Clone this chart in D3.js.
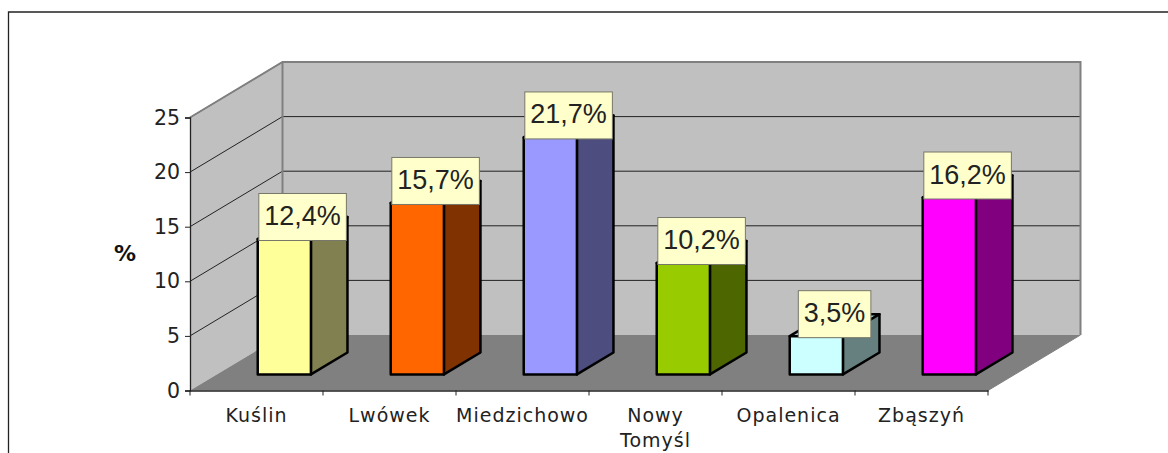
<!DOCTYPE html>
<html>
<head>
<meta charset="utf-8">
<script src="https://cdnjs.cloudflare.com/ajax/libs/d3/7.8.5/d3.min.js"></script>
<style>
  html, body { margin: 0; padding: 0; background: #fff; overflow: hidden; }
  svg { display: block; }
</style>
</head>
<body>
<div id="chart"></div>
<script>
const categories = ["Kuślin", "Lwówek", "Miedzichowo", "Nowy Tomyśl", "Opalenica", "Zbąszyń"]
const values = [12.4, 15.7, 21.7, 10.2, 3.5, 16.2]
const labels = ["12,4%", "15,7%", "21,7%", "10,2%", "3,5%", "16,2%"]
const frontColors = ["#FFFF99", "#FF6600", "#9999FF", "#99CC00", "#CCFFFF", "#FF00FF"]
const sideColors = ["#808050", "#803300", "#4D4D80", "#4D6600", "#668080", "#800080"]
const topColors = ["#CCCC7A", "#CC5200", "#7A7ACC", "#7AA300", "#A3CCCC", "#CC00CC"]
const yTicks = [0, 5, 10, 15, 20, 25]

const WIDTH = 1168
const HEIGHT = 453
const DEPTH = {X: 92.5, Y: -55.5}
// bars stand in the middle of the floor depth
const BAR_Z = [0.29, 0.685]

const svg = d3.select("#chart").append("svg")
  .attr("width", WIDTH)
  .attr("height", HEIGHT)

// scales for the front plane of the 3d box
const x = d3.scaleBand().domain(categories).range([191, 989]).paddingInner(0.6).paddingOuter(0.3)
const xTick = d3.scaleBand().domain(categories).range([190, 988])
const y = d3.scaleLinear().domain([0, 25]).range([390.5, 117.5])

// project a point of the box back by depth z (0 front, 1 back wall)
const px = (a, z) => a + z * DEPTH.X
const py = (a, z) => a + z * DEPTH.Y
const pts = list => list.map(p => [px(p[0], p[2]), py(p[1], p[2])].join(",")).join(" ")

// outer frame, only top and left are in view
svg.append("path")
  .attr("d", `M8.5,${HEIGHT}V12H${WIDTH}`)
  .attr("fill", "none")
  .attr("stroke", "#222")
  .attr("stroke-width", 1.3)

const [xl, xr] = xTick.range()
const box = svg.append("g")

// walls
box.append("polygon")
  .attr("points", pts([[xl, y(0), 0], [xl, y(25), 0], [xl, y(25), 1], [xl, y(0), 1]]))
  .attr("fill", "#C0C0C0")
box.append("polygon")
  .attr("points", pts([[xl, y(0), 1], [xl, y(25), 1], [xr, y(25), 1], [xr, y(0), 1]]))
  .attr("fill", "#C0C0C0")

// gridlines
yTicks.filter(d => d > 0).forEach(d => {
  box.append("polyline")
    .attr("points", pts([[xl, y(d), 0], [xl, y(d), 1], [xr, y(d), 1]]))
    .attr("fill", "none")
    .attr("stroke", "#222")
    .attr("stroke-width", 1)
})

// floor
box.append("polygon")
  .attr("points", pts([[xl, y(0), 0], [xl, y(0), 1], [xr, y(0), 1], [xr, y(0), 0]]))
  .attr("fill", "#808080")

// wall borders
box.append("polyline")
  .attr("points", pts([[xl, y(25), 0], [xl, y(25), 1], [xr, y(25), 1], [xr, y(0), 1]]))
  .attr("fill", "none")
  .attr("stroke", "#808080")
  .attr("stroke-width", 2)
box.append("line")
  .attr("x1", px(xl, 1)).attr("y1", y(25) + DEPTH.Y)
  .attr("x2", px(xl, 1)).attr("y2", y(0) + DEPTH.Y)
  .attr("stroke", "#808080")
  .attr("stroke-width", 2)
box.append("line")
  .attr("x1", xr).attr("y1", y(0))
  .attr("x2", px(xr, 1)).attr("y2", y(0) + DEPTH.Y)
  .attr("stroke", "#808080")
  .attr("stroke-width", 1)

// axes
const yAxis = d3.axisLeft(y).tickValues(yTicks).tickSize(5).tickPadding(5)
const yAxisGroup = svg.append("g")
  .attr("transform", `translate(${xl}, 0)`)
  .call(yAxis)

const xAxis = d3.axisBottom(xTick).tickSize(0).tickPadding(18)
const xAxisGroup = svg.append("g")
  .attr("transform", `translate(0, ${y(0)})`)
  .call(xAxis)

// ticks sit between the categories
xAxisGroup.selectAll(".sep")
  .data(d3.range(categories.length + 1))
  .enter().append("line")
  .attr("x1", i => xl + i * xTick.step())
  .attr("x2", i => xl + i * xTick.step())
  .attr("y1", 0)
  .attr("y2", 5)
  .attr("stroke", "#222")

yAxisGroup.selectAll("text")
  .attr("font-family", "'DejaVu Sans', Verdana, sans-serif")
  .attr("font-size", 20.5)
  .attr("fill", "#222")
xAxisGroup.selectAll("text")
  .attr("font-family", "'DejaVu Sans', Verdana, sans-serif")
  .attr("font-size", 19)
  .attr("letter-spacing", 1)
  .attr("fill", "#222")
svg.selectAll(".domain").attr("stroke", "#222").attr("stroke-width", 1.3)
yAxisGroup.selectAll(".tick line").attr("stroke", "#222")

// two line label
xAxisGroup.selectAll(".tick text").each(function(d) {
  const words = d.split(" ")
  if (words.length < 2) return
  const t = d3.select(this).text(null)
  words.forEach((w, i) => {
    t.append("tspan").attr("x", 0).attr("dy", i ? "1.33em" : "0.71em").text(w)
  })
  t.attr("dy", null)
})

// y title
svg.append("text")
  .attr("x", 125)
  .attr("y", 261)
  .attr("text-anchor", "middle")
  .attr("font-family", "'DejaVu Sans', Verdana, sans-serif")
  .attr("font-weight", "bold")
  .attr("font-size", 22)
  .attr("fill", "#111")
  .text("%")

// bars
const rows = categories.map((c, i) => ({c, v: values[i], label: labels[i], front: frontColors[i], side: sideColors[i], top: topColors[i]}))

const bars = svg.selectAll(".bar").data(rows).enter().append("g").attr("class", "bar")
const [z0, z1] = BAR_Z
const faceStyle = s => s.attr("stroke", "#000").attr("stroke-width", 2.5).attr("stroke-linejoin", "round")

bars.append("polygon")
  .attr("points", d => {
    const a = x(d.c), b = a + x.bandwidth(), t = y(d.v)
    return pts([[a, t, z0], [a, t, z1], [b, t, z1], [b, t, z0]])
  })
  .attr("fill", d => d.top)
  .call(faceStyle)
bars.append("polygon")
  .attr("points", d => {
    const b = x(d.c) + x.bandwidth(), t = y(d.v), o = y(0)
    return pts([[b, t, z0], [b, t, z1], [b, o, z1], [b, o, z0]])
  })
  .attr("fill", d => d.side)
  .call(faceStyle)
bars.append("polygon")
  .attr("points", d => {
    const a = x(d.c), b = a + x.bandwidth(), t = y(d.v), o = y(0)
    return pts([[a, t, z0], [b, t, z0], [b, o, z0], [a, o, z0]])
  })
  .attr("fill", d => d.front)
  .call(faceStyle)

// value labels
const tags = svg.selectAll(".tag").data(rows).enter().append("g").attr("class", "tag")
  .attr("transform", d => `translate(${px(x(d.c) + x.bandwidth() / 2, (z0 + z1) / 2)}, ${py(y(d.v), z0) + 1.5})`)
const tagRect = tags.append("rect")
  .attr("fill", "#FFFFCC")
  .attr("stroke", "#77776A")
  .attr("stroke-width", 1)
const tagText = tags.append("text")
  .attr("y", -15.5)
  .attr("text-anchor", "middle")
  .attr("font-family", "'Liberation Sans', Arial, sans-serif")
  .attr("font-size", 27)
  .attr("fill", "#222")
  .text(d => d.label)
tagRect.each(function(d, i) {
  const w = tagText.nodes()[i].getComputedTextLength() + 11
  d3.select(this).attr("x", -w / 2).attr("width", w).attr("y", -47).attr("height", 47)
})
</script>
</body>
</html>
